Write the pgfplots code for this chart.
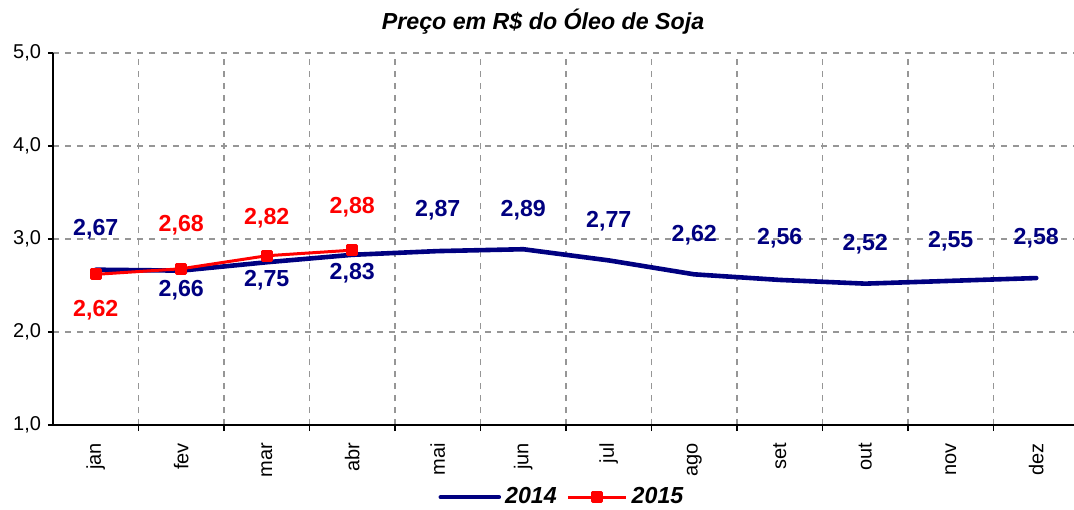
\documentclass[border=0pt]{standalone}
\usepackage{fontspec}
\setmainfont{Liberation Sans}
\usepackage{pgfplots}
\pgfplotsset{compat=1.18}
\definecolor{navyc}{RGB}{0,0,128}
\definecolor{redc}{RGB}{255,0,0}
\definecolor{gridc}{RGB}{150,150,150}
\pgfplotstableread{
x y off
0 2.67 20
1 2.66 -10
2 2.75 -9
3 2.83 -9
4 2.87 20.5
5 2.89 19.6
6 2.77 19.7
7 2.62 19.7
8 2.56 20.7
9 2.52 19.8
10 2.55 20
11 2.58 20
}\dataA
\pgfplotstableread{
x y off
0 2.62 -18
1 2.68 22
2 2.82 19
3 2.88 21.5
}\dataB
\begin{document}
\begin{tikzpicture}
\begin{axis}[
  at={(0,0)}, anchor=south west,
  scale only axis, width=513pt, height=186pt,
  xmin=-0.5, xmax=11.5, ymin=1, ymax=5,
  axis x line*=bottom, axis y line*=left,
  axis line style={black, line width=0.6pt, -},
  xtick={0,...,11},
  xticklabels={jan,fev,mar,abr,mai,jun,jul,ago,set,out,nov,dez},
  major x tick style={draw=none},
  minor xtick={0.5,1.5,...,10.5},
  minor x tick style={black, line width=0.6pt},
  xminorgrids=true,
  ytick={1,2,3,4,5},
  ymajorgrids=true,
  major y tick style={black, line width=0.6pt},
  major grid style={gridc, dash pattern=on 3pt off 3pt, line width=0.6pt},
  minor grid style={gridc, dash pattern=on 3pt off 3pt, line width=0.6pt},
  tick align=outside, major tick length=2.5pt, minor tick length=3pt,
  /pgf/number format/assume math mode=true,
  tick label style={font=\fontsize{10}{12}\selectfont},
  xticklabel style={rotate=90, anchor=east},
  xticklabel shift=3pt,
  yticklabel style={/pgf/number format/fixed, /pgf/number format/fixed zerofill, /pgf/number format/precision=1, /pgf/number format/use comma},
  title={Preço em R\$ do Óleo de Soja},
  every axis title/.style={at={(0.4776,1.083)}, anchor=center, font=\bfseries\itshape\fontsize{11.6}{13}\selectfont},
  legend columns=2,
  legend style={at={(0.497,-0.194)}, anchor=center, draw=none, fill=none,
    font=\bfseries\itshape\fontsize{11.6}{13}\selectfont,
    /tikz/every even column/.append style={column sep=3pt}},
  legend image code/.code={\draw[mark repeat=2,mark phase=2,#1] plot coordinates {(0pt,0pt) (14.5pt,0pt) (29pt,0pt)};},
  clip=false,
]
\addplot[navyc, line width=2.3pt, line join=round, line cap=round, no markers,
  nodes near coords={\pgfmathprintnumber[fixed,fixed zerofill,precision=2,use comma]{\pgfplotspointmeta}},
  point meta=explicit,
  visualization depends on={\thisrow{off} \as \off},
  every node near coord/.append style={anchor=center, yshift=\off pt, text=navyc, font=\bfseries\fontsize{11.6}{13}\selectfont}]
  table[x=x, y=y, meta=y] {\dataA};
\addlegendentry{2014}
\addplot[redc, line width=1.5pt, line join=round, mark=square*, mark size=2.3pt, mark options={solid, fill=redc},
  nodes near coords={\pgfmathprintnumber[fixed,fixed zerofill,precision=2,use comma]{\pgfplotspointmeta}},
  point meta=explicit,
  visualization depends on={\thisrow{off} \as \off},
  every node near coord/.append style={anchor=center, yshift=\off pt, text=redc, font=\bfseries\fontsize{11.6}{13}\selectfont}]
  table[x=x, y=y, meta=y] {\dataB};
\addlegendentry{2015}
\end{axis}
\pgfresetboundingbox
\useasboundingbox (-26.5pt,-42pt) rectangle (510.5pt,212.5pt);
\end{tikzpicture}
\end{document}
